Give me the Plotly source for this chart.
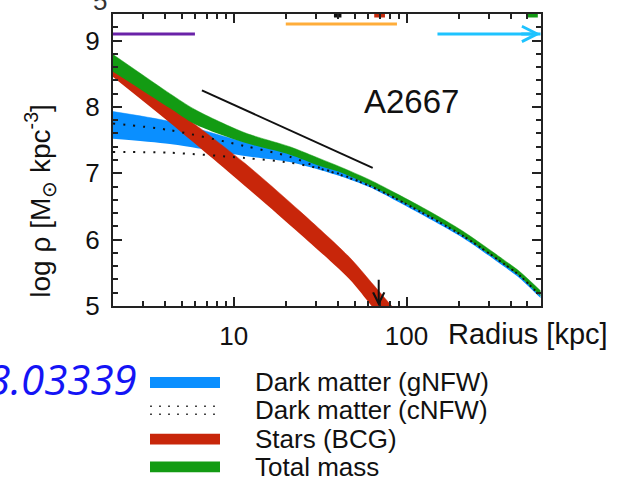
import numpy as np
import plotly.graph_objects as go

# ---------------- data ----------------
r_green = [2.0, 2.79, 4.27, 5.96, 11.6, 21.1, 31.5, 41.0, 61.3, 88.0, 137, 211, 359, 451, 596]
green_hi = [8.79, 8.53, 8.20, 7.96, 7.61, 7.40, 7.22, 7.10, 6.90, 6.69, 6.42, 6.13, 5.71, 5.52, 5.23]
green_lo = [8.53, 8.29, 7.98, 7.74, 7.46, 7.28, 7.11, 7.02, 6.82, 6.61, 6.35, 6.06, 5.64, 5.45, 5.15]

r_blue = [2.0, 4.27, 11.6, 21.1, 31.5, 41.0, 61.3, 88.0, 211, 359, 451, 596]
blue_hi = [7.93, 7.78, 7.47, 7.32, 7.16, 7.04, 6.84, 6.63, 6.08, 5.66, 5.47, 5.17]
blue_lo = [7.52, 7.44, 7.26, 7.17, 7.05, 6.96, 6.79, 6.58, 6.03, 5.61, 5.42, 5.12]

r_cnfw = [2.0, 4.27, 11.6, 21.1, 31.5, 41.0, 61.3, 88.0, 211, 359, 451, 596]
cnfw_hi = [7.75, 7.65, 7.41, 7.25, 7.08, 6.99, 6.81, 6.61, 6.06, 5.65, 5.46, 5.15]
cnfw_lo = [7.32, 7.31, 7.23, 7.16, 7.07, 6.98, 6.81, 6.61, 6.06, 5.65, 5.46, 5.15]

r_red = [2.0, 4.27, 11.6, 24.1, 46.9, 62.8, 82.0, 95.0]
red_hi = [8.70, 8.03, 7.15, 6.43, 5.73, 5.35, 5.00, 4.81]
red_lo = [8.45, 7.76, 6.81, 6.09, 5.40, 5.00, 4.64, 4.44]

slope_r = [6.54, 63.7]
slope_v = [8.25, 7.08]

purple_r, purple_v = [2, 5.96], 9.10
orange_r, orange_v = [20, 88], 9.25
cyan_r, cyan_v = [151, 596], 9.10

top_marks = [([38, 42], "#111111"), ([65, 75], "#c42a0c"), ([500, 575], "#129a12")]
arrow_r, arrow_v = 69, [5.42, 5.0]

x_tickvals = [10, 100]
x_ticktext = ["10", "100"]
x_minor = [2, 3, 4, 5, 6, 7, 8, 9, 20, 30, 40, 50, 60, 70, 80, 90, 200, 300, 400, 500, 600]
y_tickvals = [5, 6, 7, 8, 9]

legend_labels = ["Dark matter (gNFW)", "Dark matter (cNFW)", "Stars (BCG)", "Total mass"]

BLUE = "#0a8fff"
RED = "#c8260a"
GREEN = "#139b13"
FONT = "Liberation Sans"

fig = go.Figure()


def band(r, lo, hi, color):
    fig.add_trace(go.Scatter(x=r, y=lo, mode="lines", showlegend=False, hoverinfo="skip",
                             line=dict(width=0, color=color, shape="spline", smoothing=0.8)))
    fig.add_trace(go.Scatter(x=r, y=hi, mode="lines", showlegend=False, hoverinfo="skip",
                             line=dict(width=0.5, color=color, shape="spline", smoothing=0.8),
                             fill="tonexty", fillcolor=color))


band(r_blue, blue_lo, blue_hi, BLUE)
band(r_red, red_lo, red_hi, RED)
band(r_green, green_lo, green_hi, GREEN)

for arr in (cnfw_hi, cnfw_lo):
    fig.add_trace(go.Scatter(x=r_cnfw, y=arr, mode="lines", showlegend=False, hoverinfo="skip",
                             line=dict(width=2, color="#111111", dash="2px,8px",
                                       shape="spline", smoothing=0.8)))

fig.add_trace(go.Scatter(x=slope_r, y=slope_v, mode="lines", showlegend=False,
                         line=dict(width=2, color="#111111")))

fig.add_trace(go.Scatter(x=purple_r, y=[purple_v] * 2, mode="lines", showlegend=False,
                         line=dict(width=3, color="#6a22a8")))
fig.add_trace(go.Scatter(x=orange_r, y=[orange_v] * 2, mode="lines", showlegend=False,
                         line=dict(width=3, color="#ffad3a")))
fig.add_trace(go.Scatter(x=cyan_r, y=[cyan_v] * 2, mode="lines", showlegend=False,
                         line=dict(width=3, color="#1ec3ff")))
for rr, col in top_marks:
    fig.add_trace(go.Scatter(x=rr, y=[9.385, 9.385], mode="lines", showlegend=False,
                             line=dict(width=5, color=col)))

ann = []
# cyan arrow head
ann.append(dict(x=np.log10(cyan_r[1]), y=cyan_v, ax=np.log10(cyan_r[1]) - 0.12, ay=cyan_v,
                xref="x", yref="y", axref="x", ayref="y", text="", showarrow=True,
                arrowhead=5, arrowsize=1.0, arrowwidth=3, arrowcolor="#1ec3ff"))
# black down arrow
ann.append(dict(x=np.log10(arrow_r), y=arrow_v[1], ax=np.log10(arrow_r), ay=arrow_v[0],
                xref="x", yref="y", axref="x", ayref="y", text="", showarrow=True,
                arrowhead=5, arrowsize=1.1, arrowwidth=2, arrowcolor="#111111"))

W, H = 625, 489
L, R, T, B = 113, 84, 12, 183
PW, PH = W - L - R, H - T - B


def px(X):
    return (X - L) / PW


def py(Y):
    return (T + PH - Y) / PH


def text(X, Y, s, size, xa="center", family=FONT, color="#111111", **kw):
    ann.append(dict(x=px(X), y=py(Y), xref="paper", yref="paper", text=s, showarrow=False,
                    xanchor=xa, yanchor="middle", font=dict(size=size, family=family, color=color),
                    **kw))


text(411, 100, "A2667", 33)
text(446, 334, "Radius [kpc]", 29, xa="left")
text(40, 200, "log ρ [M<sub>⊙</sub> kpc<sup>-3</sup>]", 28, textangle=-90)
text(139, 379, "<i>1803.03339</i>", 42, xa="right", family="Open Sans", color="#1414f5")
text(100, -1, "5", 26, color="#333333")

rows = [383, 411, 440, 468]
shapes = []
colors = [BLUE, None, RED, GREEN]
for i, (lab, yy) in enumerate(zip(legend_labels, rows)):
    text(253, yy, lab, 26, xa="left")
    if colors[i] is not None:
        shapes.append(dict(type="rect", xref="paper", yref="paper", x0=px(150), x1=px(220),
                           y0=py(yy + 5.5), y1=py(yy - 5.5), fillcolor=colors[i],
                           line=dict(width=0)))
    else:
        for dy in (-4, 4):
            shapes.append(dict(type="line", xref="paper", yref="paper", x0=px(150), x1=px(220),
                               y0=py(yy + dy), y1=py(yy + dy),
                               line=dict(width=1.5, color="#444444", dash="2px,7px")))

axis_common = dict(showgrid=False, zeroline=False, showline=True, linecolor="#222222", linewidth=2,
                   mirror="ticks", ticks="inside", ticklen=9, tickwidth=1.5, tickcolor="#222222",
                   tickfont=dict(size=26, family=FONT, color="#111111"))

fig.update_layout(
    width=W, height=H, margin=dict(l=L, r=R, t=T, b=B),
    paper_bgcolor="white", plot_bgcolor="white",
    xaxis=dict(type="log", range=[np.log10(2), np.log10(600)], tickvals=x_tickvals,
               ticktext=x_ticktext, ticklabelstandoff=6,
               minor=dict(tickvals=x_minor, ticks="inside", ticklen=5, tickwidth=1.5,
                          tickcolor="#222222"), **axis_common),
    yaxis=dict(range=[5, 9.4], tickvals=y_tickvals, ticklabelstandoff=6,
               minor=dict(dtick=0.2, ticks="inside", ticklen=5, tickwidth=1.5,
                          tickcolor="#222222"), **axis_common),
    annotations=ann, shapes=shapes,
)

fig.write_html("out.html")
